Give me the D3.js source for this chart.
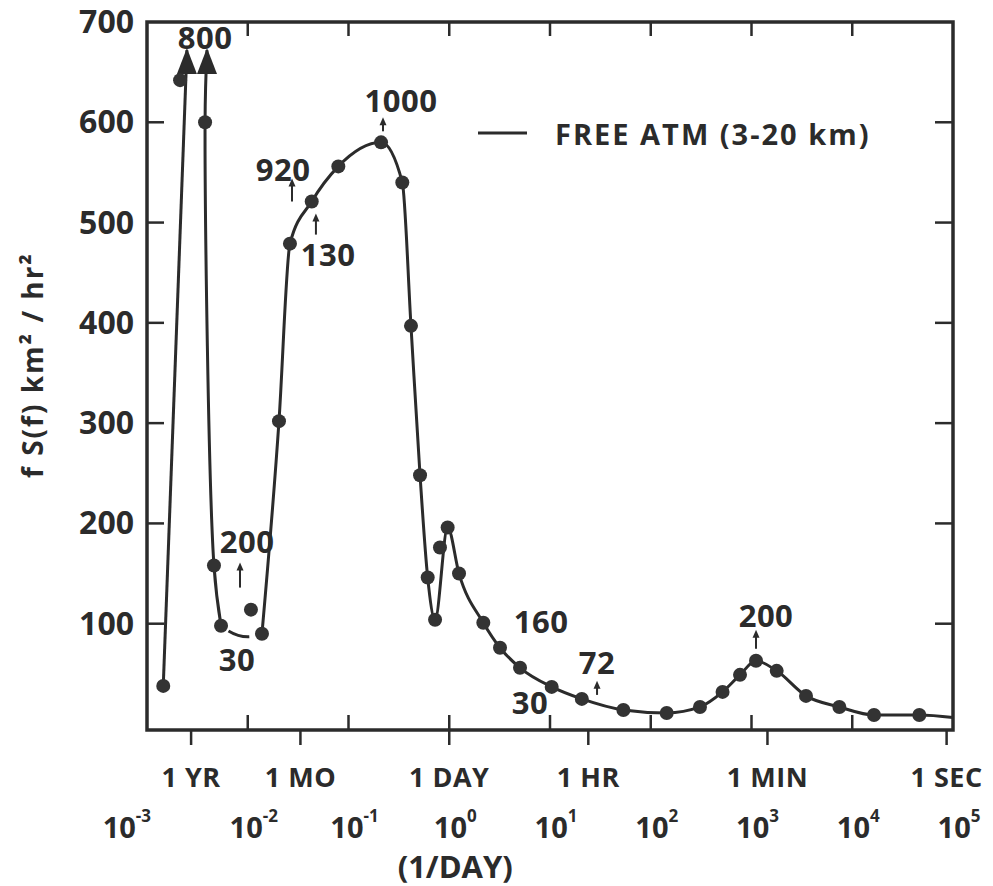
<!DOCTYPE html>
<html><head><meta charset="utf-8">
<script src="https://cdn.jsdelivr.net/npm/d3@7"></script>
<style>
body{margin:0;background:#fff;}
svg text{font-family:"Open Sans",sans-serif;font-weight:700;fill:#2b2b2b;}
</style></head><body>
<svg id="chart" width="993" height="886"></svg>
<script>
// ---------------- data (frequency in 1/day, fS(f) in km²/hr²) ----------------
const dotFreq  = [0.00145,0.00213,0.00377,0.00462,0.00543,0.01076,0.01384,0.02042,0.02624,0.04315,0.07925,0.2104,0.342,0.417,0.513,0.611,0.723,0.809,0.964,1.25,2.178,3.19,5.04,10.4,20.7,53.5,144,308,516,769,1109,1778,3475,7447,16440,46340];
const dotValue = [38,642,600,158,98,114,90,302,479,521,556,580,540,397,248,146,104,176,196,150,101,76,56,37,25,14,11,17,32,49,63,53,28,17,9,9];

// rising branch to the first off-scale peak (800) and falling branch from the second one
const riseFreq = [0.00145,0.00249];
const riseValue = [38,800];
const fallFreq = [0.00394,0.00377,0.00462,0.00543];
const fallValue = [800,600,158,98];
// dashed gap
const gapFreq = [0.00543,0.01384];
const gapValue = [98,90];
// main curve
const mainFreq  = [0.01384,0.02042,0.02624,0.04315,0.07925,0.2104,0.342,0.417,0.513,0.611,0.723,0.964,1.25,2.178,3.19,5.04,10.4,20.7,53.5,144,308,516,769,1109,1778,3475,7447,16440,46340,100000];
const mainValue = [90,302,479,521,556,580,540,397,248,146,104,196,150,101,76,56,37,25,14,11,17,32,49,63,53,28,17,9,9,6.5];

// axis ticks
const yTicks = [100,200,300,400,500,600,700];
const decadeTicks = [1e-3,1e-2,1e-1,1e0,1e1,1e2,1e3,1e4,1e5];
const decadeExp = ["-3","-2","-1","0","1","2","3","4","5"];
const periodFreq = [1/365,1/30,1,24,1440,86400];
const periodLabel = ["1 YR","1 MO","1 DAY","1 HR","1 MIN","1 SEC"];

// annotations (off-scale peak values)
const annoText  = ["800","920","130","1000","200","30","160","72","30","200"];
const annoFreq  = [0.00377,0.0224,0.0627,0.332,0.00984,0.00782,8.15,29.3,6.32,1393];
const annoValue = [685,553,469,622,182,65,103,62,22,109];
const arrowFreq = [0.0275,0.0475,0.220,0.00838,29.3,1109];
const arrowFrom = [521,488,591,136,29,75];
const arrowTo   = [543,508,604,160,42,93];

const legendLabel = "FREE ATM (3-20 km)";
const yTitle = "f S(f) km² / hr²";
const xTitle = "(1/DAY)";

// ---------------- drawing ----------------
const ink = "#2b2b2b";
const svg = d3.select("#chart");
const L = 147, R = 953, T = 22, B = 730;
const x = d3.scaleLog().domain([1e-3,1e5]).range([L,R]);
const y = d3.scaleLinear().domain([-6,700]).range([B,T]);
const arrowCap = 672; // where off-scale arrows stop

// frame
svg.append("rect").attr("x",L).attr("y",T).attr("width",R-L).attr("height",B-T)
  .attr("fill","none").attr("stroke",ink).attr("stroke-width",3.5);

// y ticks (inward, both sides)
const yT = yTicks.filter(v=>v<700);
svg.selectAll(".ytl").data(yT).join("line")
  .attr("x1",L).attr("x2",L+17).attr("y1",d=>y(d)).attr("y2",d=>y(d))
  .attr("stroke",ink).attr("stroke-width",2.5);
svg.selectAll(".ytr").data(yT).join("line")
  .attr("x1",R).attr("x2",R-18).attr("y1",d=>y(d)).attr("y2",d=>y(d))
  .attr("stroke",ink).attr("stroke-width",2.5);
svg.selectAll(".ylab").data(yTicks).join("text")
  .attr("x",134).attr("y",d=>y(d)+11).attr("text-anchor","end")
  .attr("font-size",32).text(d=>d);

// x decade ticks (inward, top and bottom)
const inner = decadeTicks.slice(1,-1);
svg.selectAll(".xtb").data(inner).join("line")
  .attr("x1",d=>x(d)).attr("x2",d=>x(d)).attr("y1",B).attr("y2",B-15)
  .attr("stroke",ink).attr("stroke-width",2.5);
svg.selectAll(".xtt").data(inner).join("line")
  .attr("x1",d=>x(d)).attr("x2",d=>x(d)).attr("y1",T).attr("y2",T+14)
  .attr("stroke",ink).attr("stroke-width",2.5);
// period ticks (outward)
svg.selectAll(".xtp").data(periodFreq).join("line")
  .attr("x1",d=>x(d)).attr("x2",d=>x(d)).attr("y1",B).attr("y2",B+15)
  .attr("stroke",ink).attr("stroke-width",2.5);
svg.selectAll(".plab").data(periodFreq).join("text")
  .attr("x",d=>x(d)).attr("y",776).attr("text-anchor","middle")
  .attr("dominant-baseline","central").attr("font-size",27).attr("letter-spacing",0.5)
  .text((d,i)=>periodLabel[i]);
// decade labels
const dl = svg.selectAll(".dlab").data(decadeTicks).join("text")
  .attr("x",(d,i)=>i===0 ? x(d)+4 : x(d)+6).attr("y",826)
  .attr("text-anchor",(d,i)=>i===0 ? "end" : "middle")
  .attr("dominant-baseline","central").attr("font-size",29);
dl.append("tspan").text("10");
dl.append("tspan").attr("dy",-11).attr("font-size",17).text((d,i)=>decadeExp[i]);
svg.append("text").attr("x",x(1)+6).attr("y",866).attr("text-anchor","middle")
  .attr("dominant-baseline","central").attr("font-size",31).text(xTitle);

// y title
svg.append("text").attr("transform","translate(32,365) rotate(-90)")
  .attr("text-anchor","middle").attr("dominant-baseline","central")
  .attr("font-size",28).attr("letter-spacing",2).text(yTitle);

// lines
const lineLinear = d3.line().x(d=>x(d[0])).y(d=>y(Math.min(d[1],arrowCap)));
const lineCR = d3.line().x(d=>x(d[0])).y(d=>y(Math.min(d[1],arrowCap))).curve(d3.curveCatmullRom.alpha(0.5));
const lineMono = d3.line().x(d=>x(d[0])).y(d=>y(d[1])).curve(d3.curveMonotoneX);
const zip = (a,b)=>a.map((v,i)=>[v,b[i]]);

svg.append("path").attr("d",lineLinear(zip(riseFreq,riseValue)))
  .attr("fill","none").attr("stroke",ink).attr("stroke-width",3);
svg.append("path").attr("d",lineCR(zip(fallFreq,fallValue)))
  .attr("fill","none").attr("stroke",ink).attr("stroke-width",3);
svg.append("path").attr("d",lineMono(zip(mainFreq,mainValue)))
  .attr("fill","none").attr("stroke",ink).attr("stroke-width",3);
// dashed gap (slightly sagging)
{
  const g = zip(gapFreq,gapValue);
  const x0=x(g[0][0]), y0=y(g[0][1]), x1=x(g[1][0]), y1=y(g[1][1]);
  svg.append("path").attr("d",`M${x0},${y0} Q${(x0+x1)/2},${Math.max(y0,y1)+9} ${x1},${y1}`)
    .attr("fill","none").attr("stroke",ink).attr("stroke-width",3)
    .attr("stroke-dasharray","0,9,22,60");
}
// big arrowheads at off-scale peaks
[riseFreq[1], fallFreq[0]].forEach(f=>{
  const tx=x(f), ty=y(arrowCap);
  svg.append("path").attr("d",`M${tx},${ty-2} L${tx-10},${ty+24} L${tx+10},${ty+24} Z`).attr("fill",ink);
});

// dots
svg.selectAll(".dot").data(zip(dotFreq,dotValue)).join("circle")
  .attr("cx",d=>x(d[0])).attr("cy",d=>y(d[1])).attr("r",7).attr("fill","#333");

// annotations
svg.selectAll(".anno").data(annoText).join("text")
  .attr("x",(d,i)=>x(annoFreq[i])).attr("y",(d,i)=>y(annoValue[i]))
  .attr("text-anchor","middle").attr("dominant-baseline","central")
  .attr("font-size",31).attr("letter-spacing",0.5).text(d=>d);
arrowFreq.forEach((f,i)=>{
  const ax=x(f), y0=y(arrowFrom[i]), y1=y(arrowTo[i]);
  svg.append("line").attr("x1",ax).attr("x2",ax).attr("y1",y0).attr("y2",y1+5)
    .attr("stroke",ink).attr("stroke-width",2);
  svg.append("path").attr("d",`M${ax},${y1-1} L${ax-3.5},${y1+7} L${ax+3.5},${y1+7} Z`).attr("fill",ink);
});

// legend
svg.append("line").attr("x1",478).attr("x2",527).attr("y1",133).attr("y2",133)
  .attr("stroke",ink).attr("stroke-width",3);
svg.append("text").attr("x",555).attr("y",133).attr("dominant-baseline","central")
  .attr("font-size",29).attr("letter-spacing",2).text(legendLabel);
</script>
</body></html>
